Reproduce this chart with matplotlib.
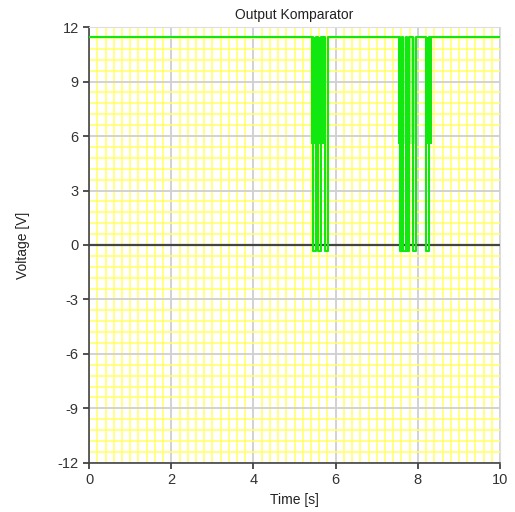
import numpy as np
import matplotlib.pyplot as plt
from matplotlib.ticker import MultipleLocator

plt.rcParams['font.family'] = ['Liberation Sans', 'DejaVu Sans']
plt.rcParams['axes.unicode_minus'] = False

# --- data ---
high_level = 11.45     # V, output high
low_level = -0.35      # V, output low (pulses)
band_low = 5.55        # V, lower edge of the dense oscillation bands

# full pulses down to the low level (start, end) in seconds
pulses = [(5.45, 5.51), (5.56, 5.64), (5.75, 5.82),
          (7.57, 7.62), (7.65, 7.71), (7.73, 7.79), (7.89, 7.95), (8.19, 8.27)]

# dense oscillation bands between band_low and high_level (start, end)
bands = [(5.40, 5.72), (7.51, 7.60), (8.18, 8.35)]
light_bands = [(7.60, 7.96)]

x_ticks = [0, 2, 4, 6, 8, 10]
y_ticks = [-12, -9, -6, -3, 0, 3, 6, 9, 12]

GREEN = '#10e810'

# build the step waveform from the pulse list
t = [0.0]
v = [high_level]
for a, b in pulses:
    t += [a, a, b, b]
    v += [high_level, low_level, low_level, high_level]
t.append(10.0)
v.append(high_level)

fig = plt.figure(figsize=(5.15, 5.12), dpi=100)
ax = fig.add_axes([0.173, 0.096, 0.798, 0.851])

ax.set_xlim(0, 10)
ax.set_ylim(-12, 12)
ax.set_xticks(x_ticks)
ax.set_yticks(y_ticks)
ax.xaxis.set_minor_locator(MultipleLocator(0.2))
ax.yaxis.set_minor_locator(MultipleLocator(0.6))

ax.grid(which='minor', color='#ffff66', linewidth=1.1, zorder=0)
ax.grid(which='major', color='#cfcfcf', linewidth=1.3, zorder=0)
ax.set_axisbelow(True)
ax.tick_params(which='minor', length=0)
ax.tick_params(which='major', direction='out', length=4, width=1.2,
               color='#333333', labelsize=10.5, labelcolor='#333333')

for s in ['top', 'right']:
    ax.spines[s].set_color('#dddddd')
for s in ['left', 'bottom']:
    ax.spines[s].set_color('#444444')
    ax.spines[s].set_linewidth(1.2)

ax.axhline(0, color='#444444', linewidth=1.6, zorder=2)

for a, b in bands:
    ax.fill_between([a, b], band_low, high_level, color=GREEN, linewidth=0, zorder=3)
for a, b in light_bands:
    ax.fill_between([a, b], band_low, high_level, color=GREEN, alpha=0.35,
                    linewidth=0, zorder=3)

ax.plot(t, v, color=GREEN, linewidth=1.5, zorder=4)

ax.set_title('Output Komparator', fontsize=10, color='#222222', pad=6)
ax.set_xlabel('Time [s]', fontsize=10, color='#222222', labelpad=4)
ax.set_ylabel('Voltage [V]', fontsize=10, color='#222222', labelpad=20)

fig.savefig('out.png', dpi=100)
